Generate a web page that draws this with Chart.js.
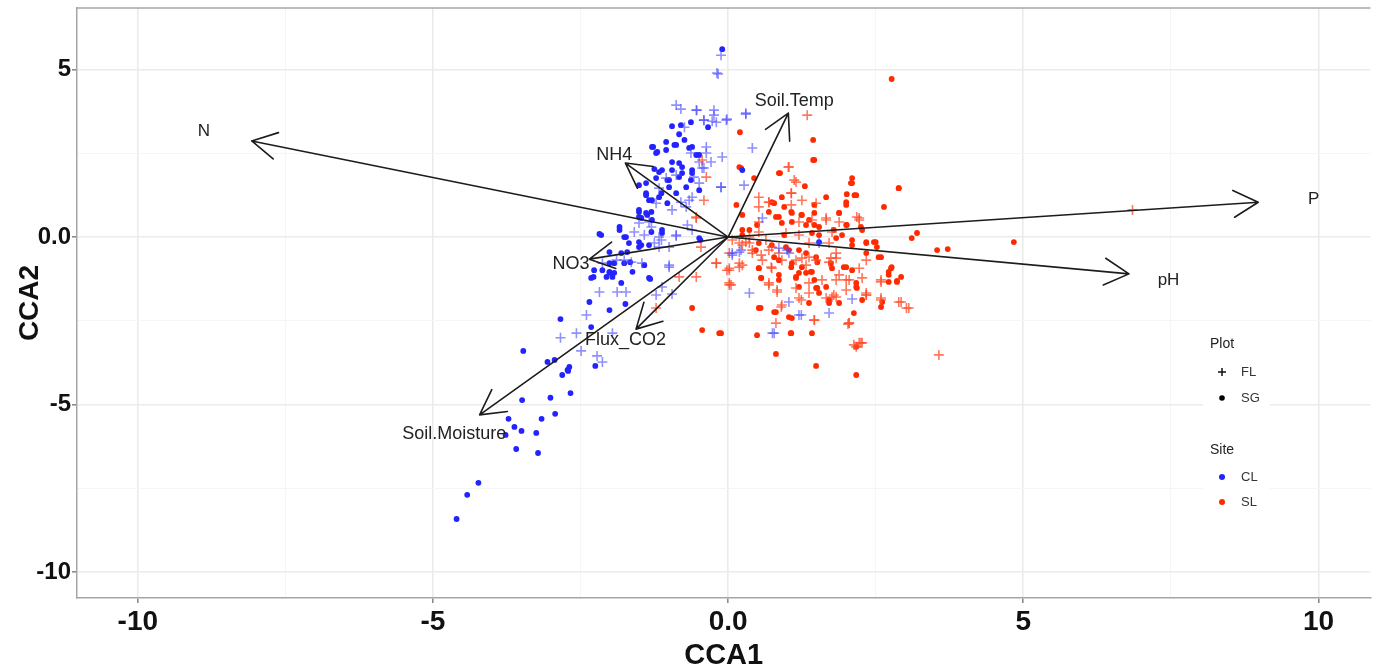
<!DOCTYPE html>
<html>
<head>
<meta charset="utf-8">
<title>CCA biplot</title>
<script src="https://cdn.jsdelivr.net/npm/chart.js@4"></script>
<style>
  html, body { margin: 0; padding: 0; background: #fff; }
  canvas { display: block; }
</style>
</head>
<body>
<canvas id="ccaChart" width="1377" height="670"></canvas>
<script>
// ========================
// CCA biplot - site scores + environmental arrows
// ========================

// axis ticks
const xTickValues = [-10, -5, 0, 5, 10];
const xTickLabels = ['-10', '-5', '0.0', '5', '10'];
const xMinorValues = [-7.5, -2.5, 2.5, 7.5];
const yTickValues = [5, 0, -5, -10];
const yTickLabels = ['5', '0.0', '-5', '-10'];
const yMinorValues = [2.5, -2.5, -7.5];

// legend levels
const plotLevels = ['FL', 'SG'];
const siteLevels = ['CL', 'SL'];

// environmental vectors (tip of arrow, and where its label sits)
const envNames = ['N', 'P', 'pH', 'Soil.Temp', 'NH4', 'NO3', 'Flux_CO2', 'Soil.Moisture'];
const envTipX = [-8.07, 8.98, 6.79, 1.02, -1.74, -2.35, -1.56, -4.21];
const envTipY = [2.87, 1.04, -1.10, 3.70, 2.21, -0.66, -2.75, -5.31];
const envLabelX = [-8.88, 9.92, 7.46, 1.12, -1.93, -2.66, -1.74, -4.64];
const envLabelY = [3.16, 1.13, -1.28, 4.06, 2.45, -0.81, -3.07, -5.88];

// site scores, Site CL / Plot FL
const clFL = [
  [-0.80,3.82],[-0.53,3.79],[-0.24,3.79],[-0.02,3.52],[0.30,3.67],[-0.41,3.49],[-0.27,3.46],[-0.19,4.90],[-0.12,5.43],
  [0.41,2.66],[-0.10,2.39],[0.27,1.55],[-0.12,1.49],[-0.37,2.69],[-0.63,2.51],[-0.49,2.24],[-0.41,2.06],[-0.58,1.79],
  [-0.49,1.61],[-0.66,1.10],[-0.80,1.04],[-0.88,1.85],[-1.05,1.76],[-1.17,1.46],[-1.22,1.01],[-0.95,0.81],[-0.69,0.36],
  [-0.88,0.03],[-1.13,-0.09],[-1.25,-0.18],[-1.17,-0.30],[-1.42,0.06],[-1.59,0.15],[-1.30,0.30],[-1.00,-0.84],[-1.76,-0.69],
  [-1.00,-0.90],[-2.18,-1.64],[-1.88,-1.64],[-1.73,-1.64],[-2.40,-2.33],[-1.96,-2.87],[-2.57,-2.87],[-2.84,-3.01],[-2.49,-3.40],
  [-2.22,-3.55],[-2.13,-3.73],[-1.12,-1.49],[-0.95,-1.70],[-1.22,-1.73],[0.36,-1.67],[0.07,-0.54],[0.75,-2.87],[1.03,-1.94],
  [-0.17,4.87],[0.30,3.70],[0.58,0.57],[0.07,-0.48],[0.19,-0.45],[1.00,-0.39],[1.54,-0.18],[1.20,-2.33],[1.71,-2.27],
  [2.10,-1.85],[0.78,-2.87],[1.24,-2.33],[0.22,-0.39],[0.86,-0.33],[1.03,-0.48],
  [-0.88,3.94],[-0.54,3.79],[-0.24,3.64],[-0.41,3.49],[-0.20,3.43],[-0.03,3.49],[-0.74,3.28],[-0.37,2.51],[-0.29,2.24],
  [-0.44,2.06],[-0.12,1.49],[-0.61,1.19],[-0.71,0.90],[-0.88,0.06],[-0.61,0.21],[-1.17,0.00],[-1.00,-0.30],[-1.51,0.42],
  [-1.34,0.45],[-1.64,-0.75],[-1.46,-0.78],[-2.13,-0.78],[-1.89,-0.69]
];

// site scores, Site CL / Plot SG
const clSG = [
  [-3.49,-4.87],[-3.01,-4.80],[-2.67,-4.66],[-3.72,-5.43],[-3.62,-5.67],[-3.50,-5.79],[-3.16,-5.43],[-2.93,-5.28],[-3.25,-5.85],
  [-3.59,-6.33],[-3.22,-6.45],[-4.23,-7.34],[-4.42,-7.70],[-4.60,-8.42],[-3.77,-5.91],[-2.81,-4.12],[-2.71,-4.00],
  [-3.47,-3.40],[-2.84,-2.45],[-2.32,-2.69],[-2.32,-1.22],[-2.35,-1.94],[-2.01,-2.18],[-1.74,-2.00],[-1.32,-1.25],[-1.42,-0.84],
  [-1.62,-1.04],[-2.01,-1.07],[-2.06,-1.19],[-1.93,-0.78],[-1.66,-0.75],[-2.27,-0.99],[-2.28,-1.19],[-3.06,-3.73],[-2.94,-3.67],
  [-2.72,-3.97],[-2.69,-3.88],[-2.25,-3.85],[-0.47,-0.09],[-1.81,-1.37],[-1.71,-0.45],[-1.47,-0.24],[-2.15,0.06],[-1.76,0.00],
  [-1.12,0.21],[-0.10,5.61],[-0.63,3.43],[-0.34,3.28],[-0.95,3.31],[-0.83,3.07],[-1.27,2.69],[-1.22,2.51],[-1.05,2.60],
  [-0.91,2.75],[-0.74,2.90],[-0.61,2.69],[-0.49,2.45],[-0.95,2.24],[-0.83,2.21],[-1.12,2.00],[-1.25,2.03],[-1.00,1.70],
  [-0.78,1.91],[-0.61,2.00],[-0.71,1.49],[-0.49,1.40],[-1.39,1.61],[-1.51,1.55],[-1.13,1.31],[-1.39,1.25],[-1.29,1.10],
  [-1.51,0.75],[-1.39,0.72],[-1.29,0.51],[-1.51,0.60],[-1.03,1.01],[-0.88,1.31],[-1.12,0.12],[-1.30,0.15],[-1.84,0.21],
  [-2.18,0.09],[-1.51,-0.15],[-0.49,-0.03],[-2.01,-0.45],[-2.01,-0.78],[-1.93,-1.07],[0.24,2.00],[-0.80,3.34],
  [-1.20,2.54],[-1.29,2.69],[-1.05,2.84],[-0.88,2.75],[-0.66,2.66],[-0.54,2.45],[-0.78,2.09],[-0.95,2.00],[-1.17,1.94],
  [-1.22,1.76],[-1.03,1.70],[-0.83,1.79],[-0.63,1.70],[-0.61,1.91],[-1.00,1.49],[-1.39,1.31],[-1.34,1.10],[-1.17,1.19],
  [-1.51,0.81],[-1.37,0.66],[-1.47,0.57],[-1.30,0.75],[-1.84,0.30],[-1.73,0.00],[-1.68,-0.18],[-1.51,-0.30],[-1.34,-0.24],
  [-1.81,-0.48],[-1.76,-0.78],[-2.01,-1.04],[-1.96,-1.19],[-2.13,-0.99],[-1.34,-1.22],[1.54,-0.15]
];

// site scores, Site SL / Plot FL
const slFL = [
  [1.34,3.64],[1.02,2.09],[1.12,1.70],[0.52,1.19],[0.69,1.04],[1.07,1.31],[1.07,0.96],[1.66,0.57],[2.18,0.60],[1.88,0.45],
  [0.52,0.45],[0.98,0.12],[0.64,-0.09],[0.36,-0.18],[0.07,-0.09],[0.24,-0.24],[0.41,-0.39],[0.56,-0.54],[0.74,-0.30],[1.20,0.06],
  [1.37,-0.18],[1.71,-0.18],[1.83,-0.48],[1.74,-0.63],[1.15,-0.69],[1.37,-0.60],[1.49,-0.69],[0.91,-0.69],[0.73,-0.90],[0.69,-1.37],
  [0.19,-0.78],[0.02,-0.99],[-0.20,-0.78],[0.05,-1.43],[0.83,-1.58],[1.20,-1.82],[1.37,-1.67],[1.59,-1.28],[1.83,-1.28],[2.00,-1.28],
  [2.27,-1.22],[2.34,-1.73],[2.59,-1.28],[2.59,-1.82],[2.89,-1.94],[3.06,-2.12],[1.83,-1.79],[1.66,-1.82],[2.00,-1.58],[0.90,-2.09],
  [1.46,-2.48],[2.05,-2.57],[2.17,-3.28],[2.27,-3.16],[0.30,-0.15],[2.22,0.51],
  [-0.46,-0.30],[-0.20,-0.78],[0.02,-1.37],[0.19,-0.90],[-0.02,-0.99],[-0.54,-1.19],[-0.83,-1.19],[-1.22,-2.12],
  [2.59,-1.88],[3.02,-2.12],[2.34,-1.67],[1.79,-1.73],[2.03,-2.60],[2.25,-3.16],[3.57,-3.52],[6.85,0.81],[-0.37,1.79],[-0.54,0.60],
  [-0.44,2.30],[-0.41,1.10],[-0.54,0.57],
  [1.03,2.09],[1.15,1.64],[1.07,1.31],[1.49,1.01],[1.25,1.10],[0.69,1.04],[0.52,0.90],[1.20,0.45],[1.42,0.51],[1.66,0.51],
  [2.22,0.57],[1.76,0.15],[0.52,0.15],[0.36,0.00],[0.19,-0.18],[0.02,-0.48],[0.41,-0.48],[0.69,-0.39],[0.86,-0.48],[0.58,-0.69],
  [0.74,-0.93],[0.24,-0.84],[0.02,-0.93],[1.25,-0.63],[1.32,-0.84],[1.71,-0.75],[1.83,-0.63],[2.22,-0.93],[1.88,-1.13],[2.34,-0.69],
  [2.05,-1.28],[1.37,-1.37],[1.15,-1.52],[0.69,-1.43],[0.83,-1.64],[0.02,-1.43],[2.93,-1.94],[2.59,-1.34],[2.34,-1.73],[1.76,-1.79],
  [1.24,-1.88],[0.91,-2.03],[0.81,-2.57],[1.46,-2.48],[2.05,-2.57],[2.22,-3.16],[2.13,-3.22]
];

// site scores, Site SL / Plot SG
const slSG = [
  [2.77,4.72],[0.20,3.13],[1.44,2.90],[1.44,2.30],[0.22,2.06],[0.88,1.91],[1.30,1.52],[2.10,1.76],[2.10,1.61],[2.89,1.46],
  [1.66,1.19],[2.01,1.28],[2.14,1.25],[2.64,0.90],[2.00,0.96],[1.88,0.72],[0.14,0.96],[0.44,1.76],[0.78,1.01],[0.95,0.90],
  [1.08,0.72],[1.25,0.66],[1.46,0.96],[1.46,0.72],[0.81,0.60],[0.91,0.42],[1.32,0.36],[1.46,0.36],[2.00,0.36],[2.25,0.30],
  [0.49,0.36],[0.36,0.21],[0.24,0.06],[0.95,0.06],[1.42,0.12],[1.79,0.21],[2.10,-0.09],[1.93,0.06],[2.34,-0.18],[2.47,-0.15],
  [2.52,-0.30],[3.11,-0.03],[3.20,0.12],[3.54,-0.39],[3.72,-0.36],[2.59,-0.60],[2.76,-0.93],[2.72,-1.13],[2.93,-1.19],[2.86,-1.31],
  [2.17,-1.37],[2.18,-1.52],[2.00,-0.90],[1.74,-0.78],[1.76,-0.93],[1.51,-0.75],[1.40,-1.04],[1.46,-1.28],[1.32,-1.07],[1.25,-0.90],
  [1.15,-1.22],[1.07,-0.90],[0.86,-1.28],[0.52,-0.93],[0.56,-1.22],[0.78,-0.60],[1.03,-0.39],[1.51,-1.52],[1.20,-1.49],[1.71,-1.97],
  [0.55,-2.12],[0.81,-2.24],[1.03,-2.39],[2.13,-2.27],[2.59,-2.09],[1.06,-2.87],[0.49,-2.93],[-0.12,-2.87],[-0.44,-2.78],[2.17,-3.28],
  [1.49,-3.85],[2.17,-4.12],[2.72,-1.04],[2.86,-1.34],[2.17,-1.49],[2.27,-1.88],
  [-0.61,-2.12],[-0.15,-2.87],[0.81,-3.49],[0.78,-2.24],[1.08,-2.42],[4.84,-0.15],[0.19,2.09],[0.24,0.66],
  [1.46,2.30],[0.86,1.91],[2.08,1.61],[2.17,1.25],[2.89,1.46],[2.00,1.04],[0.74,1.04],[0.91,1.19],[1.07,0.75],[1.24,0.66],
  [1.37,0.51],[1.54,0.30],[1.08,0.45],[0.86,0.60],[0.69,0.75],[0.24,0.21],[1.88,0.72],[2.01,0.36],[2.27,0.21],[2.34,-0.15],
  [2.50,-0.15],[2.10,-0.24],[1.83,-0.03],[1.54,0.06],[2.55,-0.60],[2.34,-0.48],[2.77,-0.90],[2.72,-1.34],[2.61,-1.94],[2.10,-0.99],
  [1.96,-0.90],[1.49,-0.60],[1.32,-0.48],[1.20,-0.39],[0.98,-0.30],[0.74,-0.24],[0.52,-0.18],[0.47,-0.39],[0.86,-0.69],[1.08,-0.78],
  [1.20,-1.07],[1.42,-1.04],[1.15,-1.19],[0.86,-1.13],[0.52,-0.93],[0.56,-1.22],[1.66,-1.49],[1.49,-1.52],[1.54,-1.67],[0.52,-2.12],
  [1.37,-1.97],[1.71,-1.88],[1.88,-1.97],[1.42,-2.87],[1.07,-2.87]
];

const toPoints = arr => arr.map(p => ({ x: p[0], y: p[1] }));

const FONT = '"Liberation Sans", Arial, sans-serif';
const COL_CL = '#2323ff';
const COL_SL = '#ff2a00';

const isMajor = (list, tick) => tick && list.indexOf(tick.value) >= 0;

// grid, tick marks and label helper for both axes
function axisGrid(majors) {
    return {
        color: c => isMajor(majors, c.tick) ? '#ebebeb' : '#f5f5f5',
        lineWidth: c => isMajor(majors, c.tick) ? 1.6 : 1,
        tickColor: c => isMajor(majors, c.tick) ? '#8a8a8a' : 'rgba(0,0,0,0)',
        tickLength: 5,
        drawTicks: true
    };
}

// arrows + labels of the environmental variables
const biplotArrows = {
    id: 'biplotArrows',
    afterDatasetsDraw(chart) {
        const { ctx, scales: { x, y } } = chart;
        const ox = x.getPixelForValue(0);
        const oy = y.getPixelForValue(0);
        ctx.save();
        ctx.strokeStyle = '#1c1c1c';
        ctx.lineWidth = 1.6;
        ctx.lineCap = 'round';
        ctx.lineJoin = 'round';
        envNames.forEach((name, i) => {
            const tx = x.getPixelForValue(envTipX[i]);
            const ty = y.getPixelForValue(envTipY[i]);
            const ang = Math.atan2(ty - oy, tx - ox);
            const L = 28, a = 0.5;
            ctx.beginPath();
            ctx.moveTo(ox, oy);
            ctx.lineTo(tx, ty);
            ctx.moveTo(tx - L * Math.cos(ang - a), ty - L * Math.sin(ang - a));
            ctx.lineTo(tx, ty);
            ctx.lineTo(tx - L * Math.cos(ang + a), ty - L * Math.sin(ang + a));
            ctx.stroke();
        });
        ctx.fillStyle = '#222';
        ctx.textAlign = 'center';
        ctx.textBaseline = 'middle';
        envNames.forEach((name, i) => {
            ctx.font = (name.length <= 2 ? '17px ' : '18px ') + FONT;
            ctx.fillText(name, x.getPixelForValue(envLabelX[i]), y.getPixelForValue(envLabelY[i]));
        });
        ctx.restore();
    }
};

// panel top border + ggplot style legend on the right
const panelExtras = {
    id: 'panelExtras',
    beforeDatasetsDraw(chart) {
        const { ctx, chartArea } = chart;
        ctx.save();
        ctx.strokeStyle = '#a6a6a6';
        ctx.lineWidth = 1.5;
        ctx.beginPath();
        ctx.moveTo(chartArea.left, chartArea.top);
        ctx.lineTo(chartArea.right, chartArea.top);
        ctx.stroke();
        ctx.restore();
    },
    afterDraw(chart) {
        const { ctx } = chart;
        const lx = 1210, kx = 1222, tx = 1241;
        ctx.save();
        ctx.fillStyle = '#fff';
        ctx.fillRect(1203, 333, 67, 182);
        ctx.textBaseline = 'middle';
        ctx.textAlign = 'left';
        ctx.fillStyle = '#222';
        ctx.font = '14px ' + FONT;
        ctx.fillText('Plot', lx, 344);
        ctx.fillText('Site', lx, 450);
        ctx.font = '13px ' + FONT;
        ctx.fillStyle = '#333';
        ctx.fillText(plotLevels[0], tx, 372);
        ctx.fillText(plotLevels[1], tx, 398);
        ctx.fillText(siteLevels[0], tx, 477);
        ctx.fillText(siteLevels[1], tx, 502);
        // keys
        ctx.strokeStyle = '#111';
        ctx.lineWidth = 1.5;
        ctx.beginPath();
        ctx.moveTo(kx - 4, 372); ctx.lineTo(kx + 4, 372);
        ctx.moveTo(kx, 368); ctx.lineTo(kx, 376);
        ctx.stroke();
        ctx.fillStyle = '#000';
        ctx.beginPath(); ctx.arc(kx, 398, 2.8, 0, Math.PI * 2); ctx.fill();
        ctx.fillStyle = COL_CL;
        ctx.beginPath(); ctx.arc(kx, 477, 3, 0, Math.PI * 2); ctx.fill();
        ctx.fillStyle = COL_SL;
        ctx.beginPath(); ctx.arc(kx, 502, 3, 0, Math.PI * 2); ctx.fill();
        ctx.restore();
    }
};

const plusStyle = color => ({
    pointStyle: 'cross', pointRadius: 5, pointBorderWidth: 1.6,
    pointBorderColor: color, pointBackgroundColor: color, showLine: false
});
const dotStyle = color => ({
    pointStyle: 'circle', pointRadius: 2.9, pointBorderWidth: 0,
    pointBackgroundColor: color, pointBorderColor: color, showLine: false
});

const config = {
    type: 'scatter',
    data: {
        datasets: [
            Object.assign({ label: 'CL FL', data: toPoints(clFL) }, plusStyle('rgba(70,70,255,0.6)')),
            Object.assign({ label: 'SL FL', data: toPoints(slFL) }, plusStyle('rgba(255,75,40,0.75)')),
            Object.assign({ label: 'CL SG', data: toPoints(clSG) }, dotStyle(COL_CL)),
            Object.assign({ label: 'SL SG', data: toPoints(slSG) }, dotStyle(COL_SL))
        ]
    },
    options: {
        responsive: false,
        animation: false,
        layout: { padding: { top: 8, right: 5, left: 0, bottom: 0 } },
        plugins: {
            legend: { display: false },
            tooltip: { enabled: false }
        },
        scales: {
            x: {
                type: 'linear',
                min: -11.03,
                max: 10.88,
                afterBuildTicks: s => {
                    s.ticks = xTickValues.concat(xMinorValues).sort((a, b) => a - b).map(v => ({ value: v }));
                },
                afterFit: s => { s.height = 72; s.paddingLeft = 0; s.paddingRight = 0; },
                grid: axisGrid(xTickValues),
                border: { display: true, color: '#a6a6a6', width: 1.5 },
                ticks: {
                    autoSkip: false, maxRotation: 0, padding: 2, color: '#111',
                    font: { family: FONT, size: 28, weight: 'bold' },
                    callback: v => { const i = xTickValues.indexOf(v); return i < 0 ? '' : xTickLabels[i]; }
                },
                title: {
                    display: true, text: 'CCA1', color: '#111',
                    font: { family: FONT, size: 29, weight: 'bold', lineHeight: 1 },
                    padding: { top: 0, bottom: 0 }
                }
            },
            y: {
                type: 'linear',
                min: -10.78,
                max: 6.84,
                afterBuildTicks: s => {
                    s.ticks = yTickValues.concat(yMinorValues).sort((a, b) => a - b).map(v => ({ value: v }));
                },
                afterFit: s => { s.width = 77; s.paddingTop = 0; s.paddingBottom = 0; },
                grid: axisGrid(yTickValues),
                border: { display: true, color: '#a6a6a6', width: 1.5 },
                ticks: {
                    autoSkip: false, padding: 1, color: '#111',
                    font: { family: FONT, size: 24, weight: 'bold' },
                    callback: v => { const i = yTickValues.indexOf(v); return i < 0 ? '' : yTickLabels[i]; }
                },
                title: {
                    display: true, text: 'CCA2', color: '#111',
                    font: { family: FONT, size: 28, weight: 'bold' },
                    padding: { top: 13, bottom: 0 }
                }
            }
        }
    },
    plugins: [panelExtras, biplotArrows]
};

window.addEventListener('DOMContentLoaded', () => {
    const ctx = document.getElementById('ccaChart').getContext('2d');
    new Chart(ctx, config);
});
</script>
</body>
</html>
